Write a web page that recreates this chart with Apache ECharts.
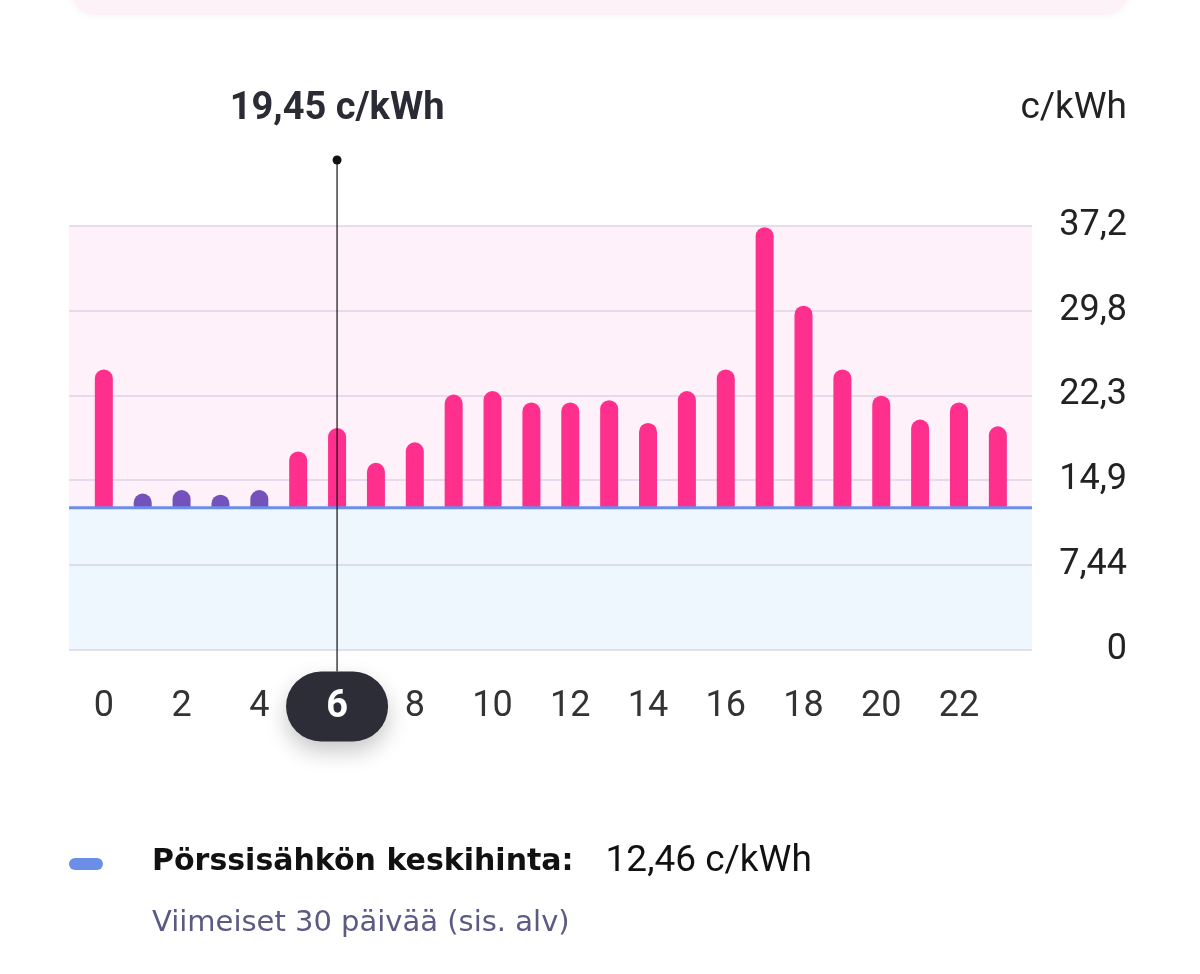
<!DOCTYPE html>
<html>
<head>
<meta charset="utf-8">
<title>Pörssisähkö</title>
<script src="https://cdn.jsdelivr.net/npm/echarts@6/dist/echarts.min.js"></script>
<style>
  html, body { margin: 0; padding: 0; background: #fff; }
  #chart { width: 1200px; height: 974px; }
</style>
</head>
<body>
<div id="chart"></div>
<script>
(function() {
  // data
  var hours = ["0","1","2","3","4","5","6","7","8","9","10","11","12","13","14","15","16","17","18","19","20","21","22","23"];
  var prices = [24.6, 13.7, 14.0, 13.6, 14.0, 17.4, 19.45, 16.4, 18.2, 22.4, 22.7, 21.7,
                21.7, 21.9, 19.9, 22.7, 24.6, 37.1, 30.2, 24.6, 22.3, 20.2, 21.7, 19.6];
  var cheapHours = [1, 2, 3, 4]; // tunnit keskihinnan alla
  var avgPrice = 12.46;
  var selectedHour = 6;
  var yMax = 37.2;
  var yInterval = 7.44;

  var numFont = "Roboto, 'Noto Sans', sans-serif";
  var textFont = "'DejaVu Sans', 'Noto Sans', sans-serif";
  var fmt = function(v, d) { return v.toFixed(d).replace(".", ","); };

  var myChart = echarts.init(document.getElementById("chart"));

  var option = {
    animation: false,
    textStyle: { fontFamily: numFont },
    grid: [
      // taustat + y-akseli
      { left: 69, right: 168, top: 226, bottom: 324.5 },
      // pylväät
      { left: 84.4, right: 182.7, top: 226, bottom: 324.5 }
    ],
    xAxis: [
      { gridIndex: 0, type: "value", min: 0, max: 1, show: false },
      {
        gridIndex: 1,
        type: "category",
        data: hours,
        axisLine: { show: false },
        axisTick: { show: false },
        axisLabel: {
          interval: 1,
          fontSize: 36,
          color: "#333",
          margin: 39,
          fontFamily: numFont
        }
      }
    ],
    yAxis: [
      {
        gridIndex: 0,
        type: "value",
        position: "right",
        min: 0,
        max: yMax,
        interval: yInterval,
        z: 4,
        axisLine: { show: false },
        axisTick: { show: false },
        splitLine: { lineStyle: { color: "#dcd3e6", width: 1.5 } },
        axisLabel: {
          align: "right",
          margin: 95,
          fontSize: 36,
          color: "#222",
          fontFamily: numFont,
          formatter: function(v) {
            return Number(v.toPrecision(3)).toString().replace(".", ",");
          }
        }
      },
      { gridIndex: 1, type: "value", min: 0, max: yMax, show: false }
    ],
    graphic: [
      {
        type: "rect",
        shape: { x: 72, y: -40, width: 1056, height: 55, r: 22 },
        style: { fill: "#fdf2f8", shadowBlur: 8, shadowColor: "rgba(0,0,0,0.05)" }
      },
      {
        type: "text",
        x: 1127,
        y: 109,
        style: { text: "c/kWh", fontSize: 37, fill: "#222", fontFamily: numFont, align: "right", verticalAlign: "middle" }
      },
      {
        type: "rect",
        shape: { x: 69, y: 858, width: 34, height: 12, r: 6 },
        style: { fill: "#6b8ee8" }
      },
      {
        type: "text",
        x: 152,
        y: 862,
        style: {
          text: "{b|Pörssisähkön keskihinta:}{n|" + fmt(avgPrice, 2) + " c/kWh}",
          verticalAlign: "middle",
          rich: {
            b: { fontSize: 30, fontWeight: "bold", fill: "#111", fontFamily: textFont },
            n: { fontSize: 37, fill: "#111", fontFamily: numFont, padding: [0, 0, 0, 32] }
          }
        }
      },
      {
        type: "text",
        x: 152,
        y: 923,
        style: { text: "Viimeiset 30 päivää (sis. alv)", fontSize: 29, fill: "#5b5a82", fontFamily: textFont, verticalAlign: "middle" }
      }
    ],
    series: [
      {
        name: "keskihinta",
        type: "line",
        xAxisIndex: 0,
        yAxisIndex: 0,
        z: 5,
        symbol: "none",
        lineStyle: { color: "#6b8ee8", width: 3 },
        data: [[0, avgPrice], [1, avgPrice]],
        markArea: {
          silent: true,
          z: 1,
          data: [
            [{ yAxis: avgPrice, itemStyle: { color: "#fef1f9" } }, { yAxis: yMax }],
            [{ yAxis: 0, itemStyle: { color: "#eef6fe" } }, { yAxis: avgPrice }]
          ]
        }
      },
      {
        name: "hinta",
        type: "custom",
        xAxisIndex: 1,
        yAxisIndex: 1,
        z: 4,
        data: prices.map(function(v, i) { return [i, v]; }),
        renderItem: function(params, api) {
          var i = api.value(0);
          var top = api.coord([i, api.value(1)]);
          var base = api.coord([i, avgPrice]);
          var w = 18;
          var cheap = cheapHours.indexOf(i) >= 0;
          return {
            type: "rect",
            shape: { x: top[0] - w / 2, y: top[1], width: w, height: base[1] - top[1], r: [w / 2, w / 2, 0, 0] },
            style: { fill: cheap ? "#7451bb" : "#ff2f8e" }
          };
        }
      },
      {
        name: "valinta",
        type: "custom",
        xAxisIndex: 1,
        yAxisIndex: 1,
        z: 6,
        clip: false,
        data: [[selectedHour, prices[selectedHour]]],
        renderItem: function(params, api) {
          var x = api.coord([api.value(0), 0])[0];
          var yTop = api.coord([api.value(0), yMax])[1];
          var yBottom = api.coord([api.value(0), 0])[1];
          var dotY = yTop - 66;
          var pillTop = yBottom + 22;
          return {
            type: "group",
            children: [
              {
                type: "line",
                shape: { x1: x, y1: dotY, x2: x, y2: pillTop },
                style: { stroke: "#111", lineWidth: 1.2 }
              },
              {
                type: "circle",
                shape: { cx: x, cy: dotY, r: 4.5 },
                style: { fill: "#111" }
              },
              {
                type: "text",
                x: x,
                y: yTop - 117,
                style: {
                  text: fmt(api.value(1), 2) + " c/kWh",
                  fontSize: 38,
                  fontWeight: "bold",
                  fill: "#2b2b35",
                  fontFamily: numFont,
                  align: "center",
                  verticalAlign: "middle"
                }
              },
              {
                type: "rect",
                shape: { x: x - 51, y: pillTop, width: 102, height: 70, r: 35 },
                style: { fill: "#2d2d38", shadowBlur: 22, shadowOffsetY: 10, shadowColor: "rgba(0,0,0,0.22)" }
              },
              {
                type: "text",
                x: x,
                y: pillTop + 36,
                style: {
                  text: hours[api.value(0)],
                  fontSize: 38,
                  fontWeight: "bold",
                  fill: "#fff",
                  fontFamily: numFont,
                  align: "center",
                  verticalAlign: "middle"
                }
              }
            ]
          };
        }
      }
    ]
  };

  myChart.setOption(option);
})();
</script>
</body>
</html>
